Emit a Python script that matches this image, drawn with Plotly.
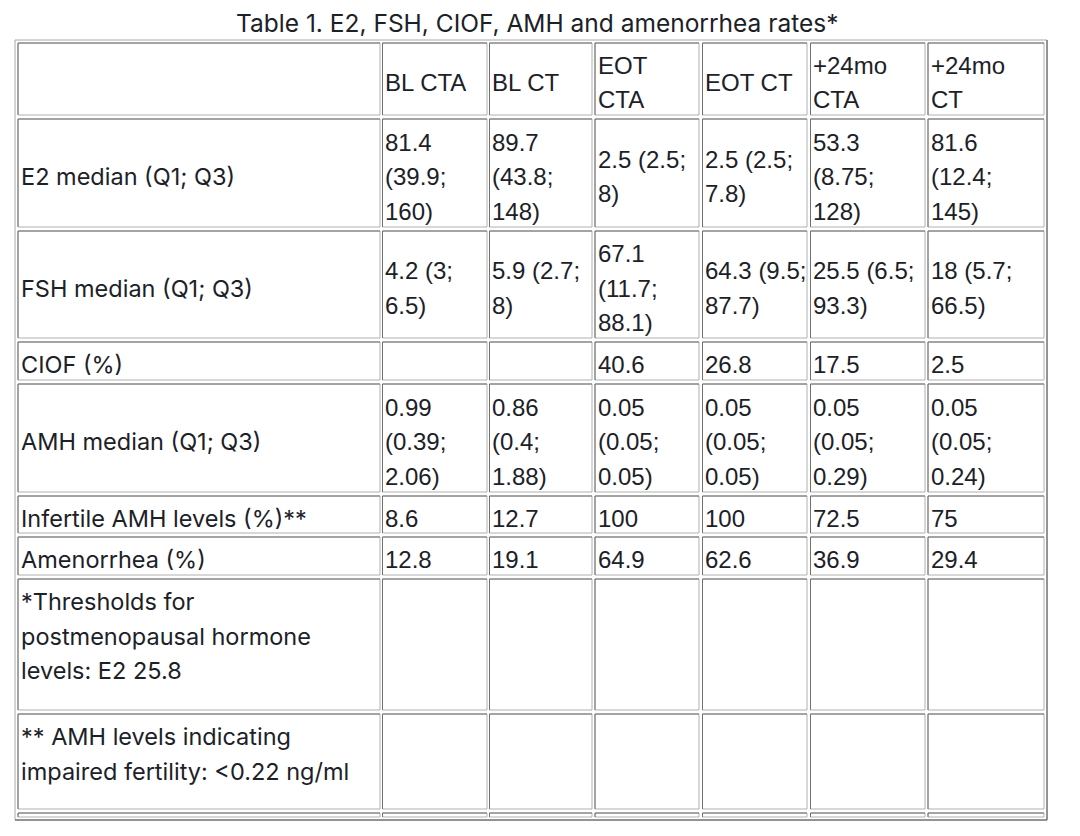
import plotly.graph_objects as go

title = "Table 1. E2, FSH, CIOF, AMH and amenorrhea rates*"

col_headers = ["", "BL CTA", "BL CT", "EOT\nCTA", "EOT CT", "+24mo\nCTA", "+24mo\nCT"]

row_labels = [
    "E2 median (Q1; Q3)",
    "FSH median (Q1; Q3)",
    "CIOF (%)",
    "AMH median (Q1; Q3)",
    "Infertile AMH levels (%)**",
    "Amenorrhea (%)",
    "*Thresholds for\npostmenopausal hormone\nlevels: E2 25.8",
    "** AMH levels indicating\nimpaired fertility: &lt;0.22 ng/ml",
    "",
]

e2_values = ["81.4\n(39.9;\n160)", "89.7\n(43.8;\n148)", "2.5 (2.5;\n8)", "2.5 (2.5;\n7.8)",
             "53.3\n(8.75;\n128)", "81.6\n(12.4;\n145)"]
fsh_values = ["4.2 (3;\n6.5)", "5.9 (2.7;\n8)", "67.1\n(11.7;\n88.1)", "64.3 (9.5;\n87.7)",
              "25.5 (6.5;\n93.3)", "18 (5.7;\n66.5)"]
ciof_values = ["", "", "40.6", "26.8", "17.5", "2.5"]
amh_values = ["0.99\n(0.39;\n2.06)", "0.86\n(0.4;\n1.88)", "0.05\n(0.05;\n0.05)", "0.05\n(0.05;\n0.05)",
              "0.05\n(0.05;\n0.29)", "0.05\n(0.05;\n0.24)"]
infertile_values = ["8.6", "12.7", "100", "100", "72.5", "75"]
amenorrhea_values = ["12.8", "19.1", "64.9", "62.6", "36.9", "29.4"]
blank_values = ["", "", "", "", "", ""]

body = [e2_values, fsh_values, ciof_values, amh_values, infertile_values,
        amenorrhea_values, blank_values, blank_values, blank_values]

# page geometry, in pixels of the 1080x836 window
# (the html body keeps its default 8px margin, so the figure starts at 8,8)
PAGE_W, PAGE_H = 1080, 836
BODY_MARGIN = 8
col_lefts = [18, 382.5, 489.5, 595, 702.5, 810.5, 928]
col_rights = [380, 487, 592, 699, 807, 925, 1044]
row_tops = [43, 119, 231, 342, 384, 496, 537, 579, 714, 813]
row_bottoms = [115, 227, 338, 380, 492, 533, 575, 710, 809, 817]
footnote_rows = {7, 8}  # text sits at the top of these rows
LINE_H = 34.5
TEXT_DROP = 3.5  # browser puts the text a little below the cell centre
TEXT_COLOR = "#1c2128"
LABEL_FONT = "Inter"
VALUE_FONT = "Liberation Sans"

rows = [col_headers] + [[lab] + vals for lab, vals in zip(row_labels, body)]

shapes = []
annotations = []

# outer table border (outset: light top/left, dark bottom/right)
shapes.append(dict(type="rect", x0=15, x1=1047, y0=40, y1=820,
                   line=dict(color="#a8a8a8", width=1)))
shapes.append(dict(type="line", x0=1047, x1=1047, y0=40, y1=820,
                   line=dict(color="#555555", width=1)))
shapes.append(dict(type="line", x0=15, x1=1047, y0=820, y1=820,
                   line=dict(color="#555555", width=1)))

for r, row in enumerate(rows):
    top, bottom = row_tops[r], row_bottoms[r]
    for c, text in enumerate(row):
        left, right = col_lefts[c], col_rights[c]
        # inset cell border: light bottom/right, darker top/left
        shapes.append(dict(type="rect", x0=left, x1=right, y0=top, y1=bottom,
                           line=dict(color="#b0b0b0", width=1)))
        shapes.append(dict(type="line", x0=left, x1=right, y0=top, y1=top,
                           line=dict(color="#707070", width=1)))
        shapes.append(dict(type="line", x0=left, x1=left, y0=top, y1=bottom,
                           line=dict(color="#707070", width=1)))
        if not text:
            continue
        lines = text.split("\n")
        if r in footnote_rows:
            first = top + 22.5
        else:
            first = (top + bottom) / 2 - (len(lines) - 1) / 2 * LINE_H + TEXT_DROP
        font = dict(family=LABEL_FONT if c == 0 else VALUE_FONT,
                    size=23.5 if c == 0 else 24, color=TEXT_COLOR)
        for i, line in enumerate(lines):
            annotations.append(dict(x=left + 0.5, y=first + i * LINE_H, text=line,
                                    xref="x", yref="y", xanchor="left", yanchor="middle",
                                    showarrow=False, font=font))

annotations.append(dict(x=537, y=22.5, text=title, xref="x", yref="y",
                        xanchor="center", yanchor="middle", showarrow=False,
                        font=dict(family=LABEL_FONT, size=24.5, color=TEXT_COLOR)))

fig = go.Figure()
fig.update_layout(
    width=PAGE_W - BODY_MARGIN, height=PAGE_H - BODY_MARGIN,
    margin=dict(l=0, r=0, t=0, b=0),
    paper_bgcolor="white", plot_bgcolor="white",
    xaxis=dict(range=[BODY_MARGIN, PAGE_W], visible=False, fixedrange=True),
    yaxis=dict(range=[PAGE_H, BODY_MARGIN], visible=False, fixedrange=True),
    shapes=shapes,
    annotations=annotations,
    showlegend=False,
)

fig.write_html("out.html")
